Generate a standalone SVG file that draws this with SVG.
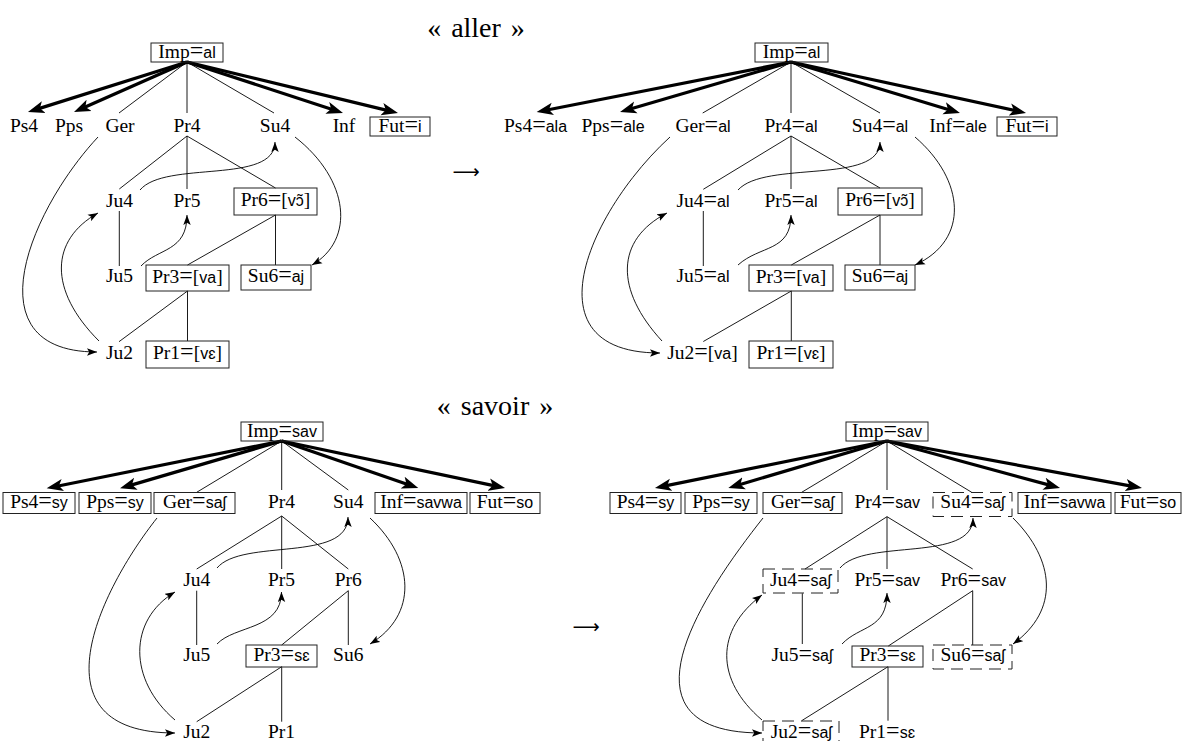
<svg xmlns="http://www.w3.org/2000/svg" width="1184" height="741" viewBox="0 0 1184 741">
<style>
.t{font-family:"Liberation Serif","Times New Roman",serif;font-size:19.5px;text-anchor:middle;fill:#000}
.s{font-family:"Liberation Sans","DejaVu Sans",sans-serif;font-size:16px}
.e{font-size:24px}
.title{font-family:"Liberation Serif","Times New Roman",serif;font-size:28px;text-anchor:middle;fill:#000;word-spacing:3px}
.arr{font-family:"DejaVu Sans",sans-serif;font-size:19px;text-anchor:middle;fill:#000}
.box{fill:none;stroke:#222;stroke-width:1}
.dbox{fill:none;stroke:#222;stroke-width:1;stroke-dasharray:12 7}
.thin{fill:none;stroke:#000;stroke-width:0.9}
.thick{fill:none;stroke:#000;stroke-width:3.2;marker-end:url(#ah)}
.cur{fill:none;stroke:#000;stroke-width:0.9;marker-end:url(#ta)}
</style>
<defs>
<marker id="ah" markerUnits="userSpaceOnUse" markerWidth="18" markerHeight="14" viewBox="0 0 18 14" refX="8.5" refY="7" orient="auto"><path d="M0,0.8 L16.5,7 L0,13.2 L4,7 z" fill="#000"/></marker>
<marker id="ta" markerUnits="userSpaceOnUse" markerWidth="11" markerHeight="8" viewBox="0 0 11 8" refX="10" refY="4" orient="auto"><path d="M0,0.3 L10,4 L0,7.7 L2.2,4 z" fill="#000"/></marker>
</defs>
<rect width="1184" height="741" fill="#fff"/>

<g id="titles">
<text class="title" x="476" y="37">« aller »</text>
<text class="title" x="495" y="415">« savoir »</text>
<text class="arr" x="466" y="178">⟶</text>
<text class="arr" x="586" y="633">⟶</text>
</g>

<g id="connectors">
<!-- top-left -->
<path class="thick" d="M187,62 L35.6,109.6"/>
<path class="thick" d="M187,62 L81.3,108.8"/>
<path class="thick" d="M187,62 L335.4,110.5"/>
<path class="thick" d="M187,62 L390.2,111.1"/>
<path class="thin" d="M187,62 L119,113 M187,62 L187,113 M187,62 L274,113"/>
<path class="thin" d="M187,136 L119.3,189 M187,136 L187,189 M187,136 L275.5,188 M119.3,211 L119.3,266 M275.5,215 L187.5,265 M275.5,215 L275.5,265 M187.5,291 L119,341.7 M187.5,291 L187.5,341"/>
<path class="cur" d="M98,137 C30,210 -30,352 97,352"/>
<path class="cur" d="M99,341 C48,290 50,240 98,213"/>
<path class="cur" d="M140,190 C165,160 275,185 275,142"/>
<path class="cur" d="M141,266 C158,248 187,252 187,215"/>
<path class="cur" d="M295,137 C350,180 355,240 312,265"/>
<!-- top-right -->
<path class="thick" d="M791,62 L544.5,110.5"/>
<path class="thick" d="M791,62 L627.7,109.8"/>
<path class="thick" d="M791,62 L952.3,110.7"/>
<path class="thick" d="M791,62 L1018.2,111.3"/>
<path class="thin" d="M791,62 L702.7,113 M791,62 L791,113 M791,62 L880,113"/>
<path class="thin" d="M791,136 L703.3,189.3 M791,136 L791,189 M791,136 L880,188 M703.3,211 L703.3,266 M880,215 L791.3,265 M880,215 L880,265 M791.3,291 L703.3,341.5 M791.3,291 L791.3,341"/>
<path class="cur" d="M670,137 C590,210 525,353 660,353"/>
<path class="cur" d="M662,341 C615,290 615,240 667,213"/>
<path class="cur" d="M738,190 C765,160 880,185 880,142"/>
<path class="cur" d="M738,265 C760,245 791,252 791,215"/>
<path class="cur" d="M915,137 C965,180 970,240 915,265"/>
<!-- bottom-left -->
<path class="thick" d="M281.7,441 L54.5,486.7"/>
<path class="thick" d="M281.7,441 L127.7,486.1"/>
<path class="thick" d="M281.7,441 L410.7,485.4"/>
<path class="thick" d="M281.7,441 L497.2,486.4"/>
<path class="thin" d="M281.7,441 L196.7,492.3 M281.7,441 L281.7,490 M281.7,441 L348.3,490"/>
<path class="thin" d="M281.7,516 L196.7,569 M281.7,516 L281.7,569 M281.7,516 L348.3,569 M196.7,590.7 L196.7,645 M348.3,590.7 L281.7,645 M348.3,590.7 L348.3,645 M281.7,666.7 L196.7,721.7 M281.7,666.7 L281.7,721.7"/>
<path class="cur" d="M157,518 C100,590 30,733 175,733"/>
<path class="cur" d="M175,720 C128,680 128,620 175,592"/>
<path class="cur" d="M217,568 C242,538 348,563 348,517"/>
<path class="cur" d="M217,644 C235,625 281.5,630 281.5,592"/>
<path class="cur" d="M370,518 C415,560 418,615 370,644"/>
<!-- bottom-right -->
<path class="thick" d="M887,441 L662.8,486.4"/>
<path class="thick" d="M887,441 L736,485.7"/>
<path class="thick" d="M887,441 L1052.3,485.9"/>
<path class="thick" d="M887,441 L1134.1,486.6"/>
<path class="thin" d="M887,441 L801.7,492.3 M887,441 L887,490 M887,441 L971.7,492.3"/>
<path class="thin" d="M887,516.7 L805,569 M887,516.7 L887,569 M887,516.7 L972.7,569 M802.3,593.3 L802.3,644 M972.7,590.7 L888.3,646 M972.7,590.7 L972.7,645 M888,666.7 L801.7,720.7 M888,666.7 L888,720.7"/>
<path class="cur" d="M763,518 C710,585 605,733 762,733"/>
<path class="cur" d="M762,720 C715,680 715,630 762,595"/>
<path class="cur" d="M840,568 C865,538 973,563 973,518"/>
<path class="cur" d="M842,644 C860,625 887,630 887,593"/>
<path class="cur" d="M1013,518 C1055,560 1060,610 1013,644"/>
</g>

<!-- ===== top-left : aller ===== -->
<g id="tl-imp"><rect class="box" x="151" y="43" width="72" height="19"/><text class="t" x="187" y="58">Imp<tspan class="e">=</tspan><tspan class="s">al</tspan></text></g>
<g id="tl-ps4"><text class="t" x="24" y="131.5">Ps4</text></g>
<g id="tl-pps"><text class="t" x="69" y="131.5">Pps</text></g>
<g id="tl-ger"><text class="t" x="120" y="131.5">Ger</text></g>
<g id="tl-pr4"><text class="t" x="187" y="131.5">Pr4</text></g>
<g id="tl-su4"><text class="t" x="275" y="131.5">Su4</text></g>
<g id="tl-inf"><text class="t" x="344" y="131.5">Inf</text></g>
<g id="tl-fut"><rect class="box" x="370" y="117" width="60" height="19"/><text class="t" x="400" y="131.5">Fut<tspan class="e">=</tspan><tspan class="s">i</tspan></text></g>
<g id="tl-ju4"><text class="t" x="119.5" y="207">Ju4</text></g>
<g id="tl-pr5"><text class="t" x="187" y="207">Pr5</text></g>
<g id="tl-pr6"><rect class="box" x="234" y="188" width="83" height="27"/><text class="t" x="275.5" y="205.5">Pr6<tspan class="e">=</tspan>[<tspan class="s">vɔ̃</tspan>]</text></g>
<g id="tl-ju5"><text class="t" x="119.5" y="282">Ju5</text></g>
<g id="tl-pr3"><rect class="box" x="146" y="265" width="83" height="26"/><text class="t" x="187.5" y="282.5">Pr3<tspan class="e">=</tspan>[<tspan class="s">va</tspan>]</text></g>
<g id="tl-su6"><rect class="box" x="241" y="265" width="70" height="25"/><text class="t" x="276" y="281.5">Su6<tspan class="e">=</tspan><tspan class="s">aj</tspan></text></g>
<g id="tl-ju2"><text class="t" x="119.5" y="358.5">Ju2</text></g>
<g id="tl-pr1"><rect class="box" x="146" y="341" width="83" height="27"/><text class="t" x="187.5" y="358.5">Pr1<tspan class="e">=</tspan>[<tspan class="s">vɛ</tspan>]</text></g>

<!-- ===== top-right : aller ===== -->
<g id="tr-imp"><rect class="box" x="755" y="43" width="73" height="19"/><text class="t" x="791.5" y="58">Imp<tspan class="e">=</tspan><tspan class="s">al</tspan></text></g>
<g id="tr-ps4"><text class="t" x="535.5" y="131.5">Ps4<tspan class="e">=</tspan><tspan class="s">ala</tspan></text></g>
<g id="tr-pps"><text class="t" x="613" y="131.5">Pps<tspan class="e">=</tspan><tspan class="s">ale</tspan></text></g>
<g id="tr-ger"><text class="t" x="703" y="131.5">Ger<tspan class="e">=</tspan><tspan class="s">al</tspan></text></g>
<g id="tr-pr4"><text class="t" x="791" y="131.5">Pr4<tspan class="e">=</tspan><tspan class="s">al</tspan></text></g>
<g id="tr-su4"><text class="t" x="880" y="131.5">Su4<tspan class="e">=</tspan><tspan class="s">al</tspan></text></g>
<g id="tr-inf"><text class="t" x="958" y="131.5">Inf<tspan class="e">=</tspan><tspan class="s">ale</tspan></text></g>
<g id="tr-fut"><rect class="box" x="997" y="117" width="60" height="19"/><text class="t" x="1027" y="131.5">Fut<tspan class="e">=</tspan><tspan class="s">i</tspan></text></g>
<g id="tr-ju4"><text class="t" x="703" y="207">Ju4<tspan class="e">=</tspan><tspan class="s">al</tspan></text></g>
<g id="tr-pr5"><text class="t" x="791" y="207">Pr5<tspan class="e">=</tspan><tspan class="s">al</tspan></text></g>
<g id="tr-pr6"><rect class="box" x="838" y="188" width="84" height="27"/><text class="t" x="880" y="205.5">Pr6<tspan class="e">=</tspan>[<tspan class="s">vɔ̃</tspan>]</text></g>
<g id="tr-ju5"><text class="t" x="703" y="282">Ju5<tspan class="e">=</tspan><tspan class="s">al</tspan></text></g>
<g id="tr-pr3"><rect class="box" x="749" y="265" width="84" height="26"/><text class="t" x="791" y="282.5">Pr3<tspan class="e">=</tspan>[<tspan class="s">va</tspan>]</text></g>
<g id="tr-su6"><rect class="box" x="845" y="265" width="70" height="25"/><text class="t" x="880" y="281.5">Su6<tspan class="e">=</tspan><tspan class="s">aj</tspan></text></g>
<g id="tr-ju2"><text class="t" x="702.5" y="358.5">Ju2<tspan class="e">=</tspan>[<tspan class="s">va</tspan>]</text></g>
<g id="tr-pr1"><rect class="box" x="749" y="341" width="84" height="27"/><text class="t" x="791" y="358.5">Pr1<tspan class="e">=</tspan>[<tspan class="s">vɛ</tspan>]</text></g>

<!-- ===== bottom-left : savoir ===== -->
<g id="bl-imp"><rect class="box" x="241" y="422" width="82" height="19"/><text class="t" x="282" y="436.5">Imp<tspan class="e">=</tspan><tspan class="s">sav</tspan></text></g>
<g id="bl-ps4"><rect class="box" x="3" y="492.5" width="72" height="21"/><text class="t" x="39" y="507.5">Ps4<tspan class="e">=</tspan><tspan class="s">sy</tspan></text></g>
<g id="bl-pps"><rect class="box" x="79" y="492.5" width="72" height="21"/><text class="t" x="115" y="507.5">Pps<tspan class="e">=</tspan><tspan class="s">sy</tspan></text></g>
<g id="bl-ger"><rect class="box" x="154" y="492.5" width="81" height="21"/><text class="t" x="194.5" y="507.5">Ger<tspan class="e">=</tspan><tspan class="s">saʃ</tspan></text></g>
<g id="bl-pr4"><text class="t" x="281.5" y="507.5">Pr4</text></g>
<g id="bl-su4"><text class="t" x="348.3" y="507.5">Su4</text></g>
<g id="bl-inf"><rect class="box" x="375" y="492.5" width="92" height="21"/><text class="t" x="421" y="507.5">Inf<tspan class="e">=</tspan><tspan class="s">savwa</tspan></text></g>
<g id="bl-fut"><rect class="box" x="470" y="492.5" width="70" height="21"/><text class="t" x="505" y="507.5">Fut<tspan class="e">=</tspan><tspan class="s">so</tspan></text></g>
<g id="bl-ju4"><text class="t" x="196.7" y="586">Ju4</text></g>
<g id="bl-pr5"><text class="t" x="281.5" y="586">Pr5</text></g>
<g id="bl-pr6"><text class="t" x="348.3" y="586">Pr6</text></g>
<g id="bl-ju5"><text class="t" x="196.7" y="661">Ju5</text></g>
<g id="bl-pr3"><rect class="box" x="246" y="645" width="71" height="22"/><text class="t" x="281.5" y="661">Pr3<tspan class="e">=</tspan><tspan class="s">sɛ</tspan></text></g>
<g id="bl-su6"><text class="t" x="348.3" y="661">Su6</text></g>
<g id="bl-ju2"><text class="t" x="196.7" y="738">Ju2</text></g>
<g id="bl-pr1"><text class="t" x="281.5" y="738">Pr1</text></g>

<!-- ===== bottom-right : savoir ===== -->
<g id="br-imp"><rect class="box" x="846" y="422" width="82" height="19"/><text class="t" x="887" y="436.5">Imp<tspan class="e">=</tspan><tspan class="s">sav</tspan></text></g>
<g id="br-ps4"><rect class="box" x="610" y="492.5" width="71" height="21"/><text class="t" x="645.5" y="507.5">Ps4<tspan class="e">=</tspan><tspan class="s">sy</tspan></text></g>
<g id="br-pps"><rect class="box" x="685" y="492.5" width="72" height="21"/><text class="t" x="721" y="507.5">Pps<tspan class="e">=</tspan><tspan class="s">sy</tspan></text></g>
<g id="br-ger"><rect class="box" x="763" y="492.5" width="79" height="21"/><text class="t" x="802.5" y="507.5">Ger<tspan class="e">=</tspan><tspan class="s">saʃ</tspan></text></g>
<g id="br-pr4"><text class="t" x="887.3" y="507.5">Pr4<tspan class="e">=</tspan><tspan class="s">sav</tspan></text></g>
<g id="br-su4"><rect class="dbox" x="933" y="492.5" width="79" height="24"/><text class="t" x="972.5" y="507.5">Su4<tspan class="e">=</tspan><tspan class="s">saʃ</tspan></text></g>
<g id="br-inf"><rect class="box" x="1018" y="492.5" width="93" height="21"/><text class="t" x="1064.5" y="507.5">Inf<tspan class="e">=</tspan><tspan class="s">savwa</tspan></text></g>
<g id="br-fut"><rect class="box" x="1115" y="492.5" width="66" height="21"/><text class="t" x="1148" y="507.5">Fut<tspan class="e">=</tspan><tspan class="s">so</tspan></text></g>
<g id="br-ju4"><rect class="dbox" x="763" y="569" width="75" height="24"/><text class="t" x="800.5" y="586">Ju4<tspan class="e">=</tspan><tspan class="s">saʃ</tspan></text></g>
<g id="br-pr5"><text class="t" x="887.3" y="586">Pr5<tspan class="e">=</tspan><tspan class="s">sav</tspan></text></g>
<g id="br-pr6"><text class="t" x="973.3" y="586">Pr6<tspan class="e">=</tspan><tspan class="s">sav</tspan></text></g>
<g id="br-ju5"><text class="t" x="802" y="661">Ju5<tspan class="e">=</tspan><tspan class="s">saʃ</tspan></text></g>
<g id="br-pr3"><rect class="box" x="852" y="646" width="71" height="21"/><text class="t" x="887.5" y="661">Pr3<tspan class="e">=</tspan><tspan class="s">sɛ</tspan></text></g>
<g id="br-su6"><rect class="dbox" x="933" y="645" width="79" height="24"/><text class="t" x="972.7" y="661">Su6<tspan class="e">=</tspan><tspan class="s">saʃ</tspan></text></g>
<g id="br-ju2"><rect class="dbox" x="763" y="721" width="76" height="24"/><text class="t" x="801.3" y="738">Ju2<tspan class="e">=</tspan><tspan class="s">saʃ</tspan></text></g>
<g id="br-pr1"><text class="t" x="887" y="738">Pr1<tspan class="e">=</tspan><tspan class="s">sɛ</tspan></text></g>
</svg>
